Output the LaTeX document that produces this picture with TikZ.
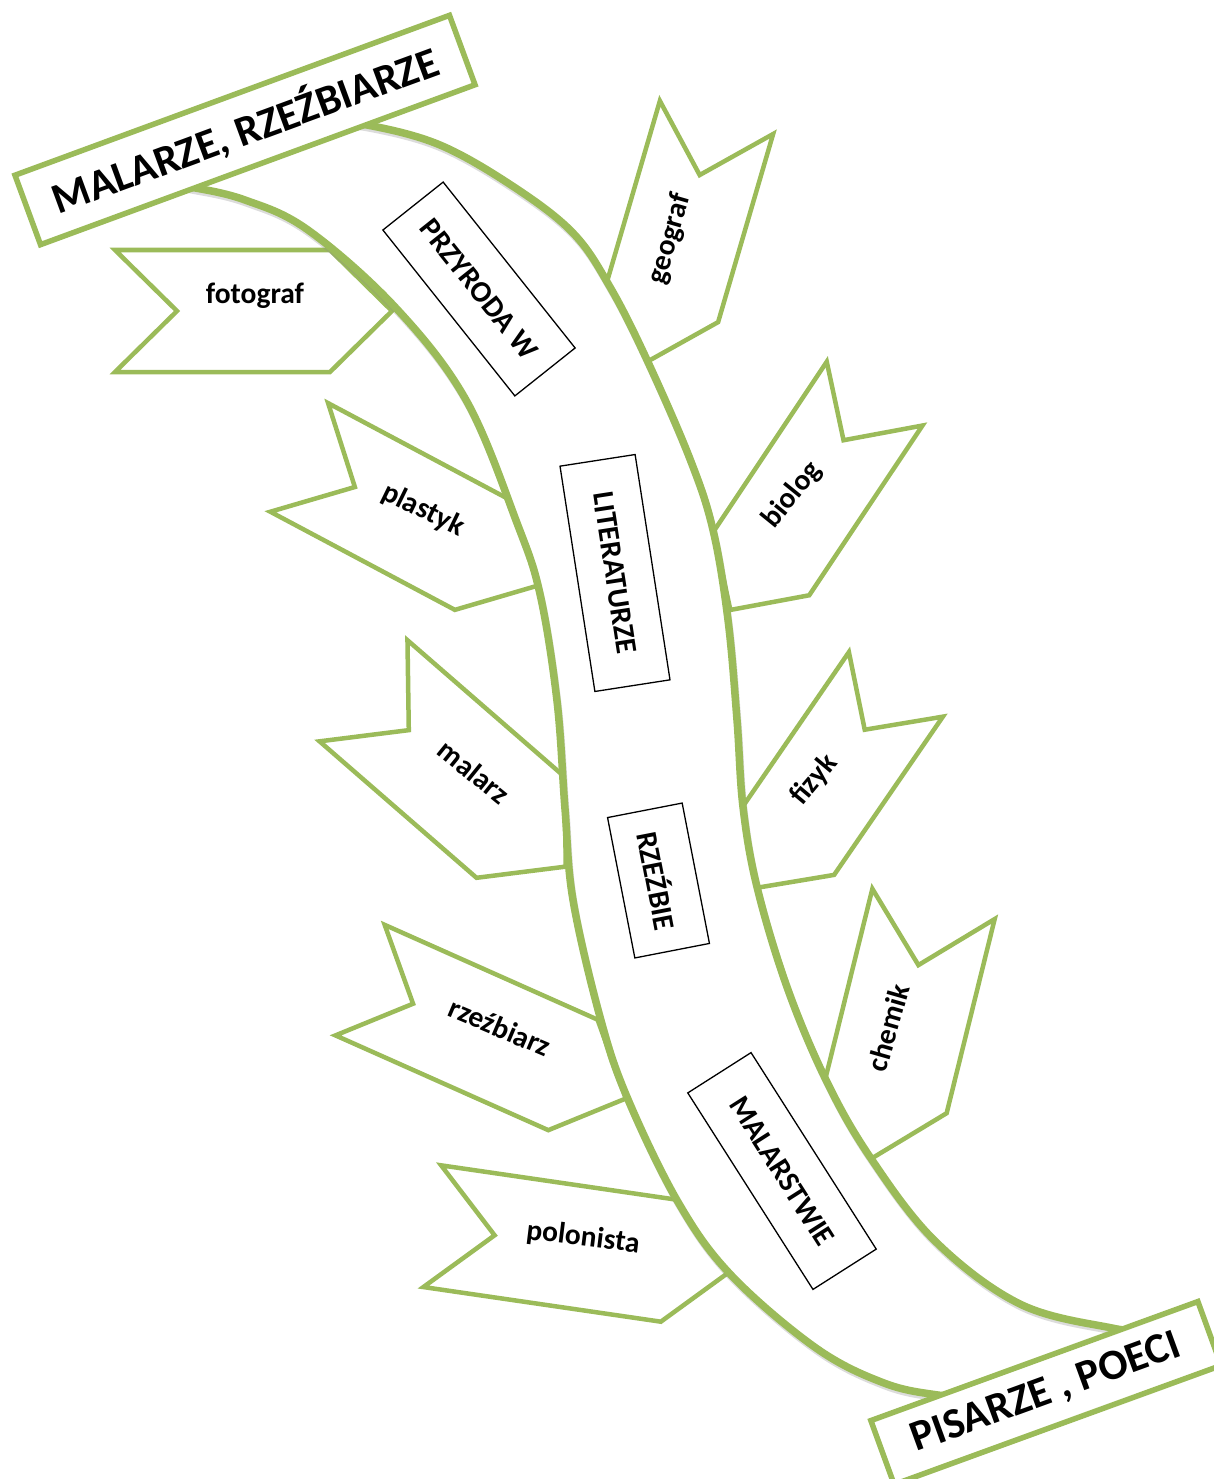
\documentclass[tikz,border=0pt]{standalone}
\usepackage{fontspec}
\setmainfont{Carlito}
\usepackage{tikz}
\definecolor{leaf}{HTML}{9BBB59}

\begin{document}
\begin{tikzpicture}[x=1pt,y=-1pt,
  chev/.style={draw=leaf,fill=white,line width=4.5pt},
  chevlab/.style={font=\fontsize{29.5}{32}\selectfont\bfseries,inner sep=0pt},
  rim/.style={draw=leaf,line width=7.5pt},
  rimshade/.style={draw=black!45,line width=7pt,opacity=.3},
  stembox/.style={draw=black,fill=white,line width=1.3pt,inner sep=0pt,font=\fontsize{30}{33}\selectfont\bfseries},
  headbox/.style={draw=leaf,fill=white,line width=5.5pt,inner sep=0pt,font=\fontsize{43}{46}\selectfont\bfseries}]
\useasboundingbox (0,0) rectangle (1214,1479);
\clip (0,0) rectangle (1214,1479);
% leaves on both sides of the stem
\foreach \nm/\cx/\cy/\ang/\lng/\brd/\dep/\lx/\ly/\lrot/\txt in {
  fot/222.5/311/0/215/122/62/255/296/0/fotograf,
  pla/391.5/506.5/-28/209/123/63/423/510/-26/plastyk,
  mal/442/759/-41/208/134/60/474/772/-39/malarz,
  rze/466.5/1027.5/-24/233/121/58/500/1027/-23/rzeźbiarz,
  pol/551/1243.5/-8.3/240/123/63/583/1238/-7/polonista,
  geo/689/211.5/-106.3/196/118/60/670/239/74/geograf,
  bio/818/478.5/-123.7/204/115/56/792/495/51/biolog,
  fiz/841.5/763.5/-124.5/192/114/55/814/780/50/fizyk,
  che/909.5/1001/-103.9/200/126/63/888/1028/74/chemik}{
  \begin{scope}[shift={(\cx,\cy)},rotate=\ang]
    \draw[chev] ({-\lng/2},{-\brd/2}) -- ({\lng/2},{-\brd/2}) -- ({\lng/2+\dep},0)
      -- ({\lng/2},{\brd/2}) -- ({-\lng/2},{\brd/2}) -- ({-\lng/2+\dep},0) -- cycle;
  \end{scope}
  \node[chevlab,rotate=\lrot] (\nm) at (\lx,\ly) {\txt};}
% the stem
\fill[white] plot[smooth,tension=.6] coordinates {(150,182) (190,187) (245,200) (308,230) (395,307) (466,400) (517,523) (540,594) (557,701) (565,809) (573,900) (600,1017) (627,1097) (678,1202) (731,1275) (816,1348) (884,1383) (938,1395) (985,1398)}
  -- plot[smooth,tension=.6] coordinates {(1160,1333) (1112,1328) (1020,1304) (935,1241) (870,1157) (826,1080) (787,987) (757,887) (743,807) (737,720) (728,620) (713,530) (690,459) (647,360) (610,287) (573,233) (514,187) (440,145) (367,125) (320,122)} -- cycle;
\begin{scope}[shift={(1,3)}]
  \draw[rimshade] plot[smooth,tension=.6] coordinates {(150,182) (190,187) (245,200) (308,230) (395,307) (466,400) (517,523) (540,594) (557,701) (565,809) (573,900) (600,1017) (627,1097) (678,1202) (731,1275) (816,1348) (884,1383) (938,1395) (985,1398)};
  \draw[rimshade] plot[smooth,tension=.6] coordinates {(320,122) (367,125) (440,145) (514,187) (573,233) (610,287) (647,360) (690,459) (713,530) (728,620) (737,720) (743,807) (757,887) (787,987) (826,1080) (870,1157) (935,1241) (1020,1304) (1112,1328) (1160,1333)};
\end{scope}
\draw[rim] plot[smooth,tension=.6] coordinates {(150,182) (190,187) (245,200) (308,230) (395,307) (466,400) (517,523) (540,594) (557,701) (565,809) (573,900) (600,1017) (627,1097) (678,1202) (731,1275) (816,1348) (884,1383) (938,1395) (985,1398)};
\draw[rim] plot[smooth,tension=.6] coordinates {(320,122) (367,125) (440,145) (514,187) (573,233) (610,287) (647,360) (690,459) (713,530) (728,620) (737,720) (743,807) (757,887) (787,987) (826,1080) (870,1157) (935,1241) (1020,1304) (1112,1328) (1160,1333)};
% labels inside the stem
\node[stembox,rotate=-51.5,minimum width=212,minimum height=77] (przyroda) at (479,289) {PRZYRODA W};
\node[stembox,rotate=-81.2,minimum width=228,minimum height=76] (literatura) at (615,573) {LITERATURZE};
\node[stembox,rotate=-79,minimum width=143,minimum height=76] (rzezba) at (658.5,880.5) {RZEŹBIE};
\node[stembox,rotate=-57.5,minimum width=233,minimum height=75] (malarstwo) at (782,1171) {MALARSTWIE};
% the two ends
\node[headbox,rotate=20.2,minimum width=463,minimum height=74] (artists) at (245,130) {MALARZE, RZEŹBIARZE};
\node[headbox,rotate=20,minimum width=348,minimum height=68] (writers) at (1046,1393) {PISARZE , POECI};
\end{tikzpicture}
\end{document}
